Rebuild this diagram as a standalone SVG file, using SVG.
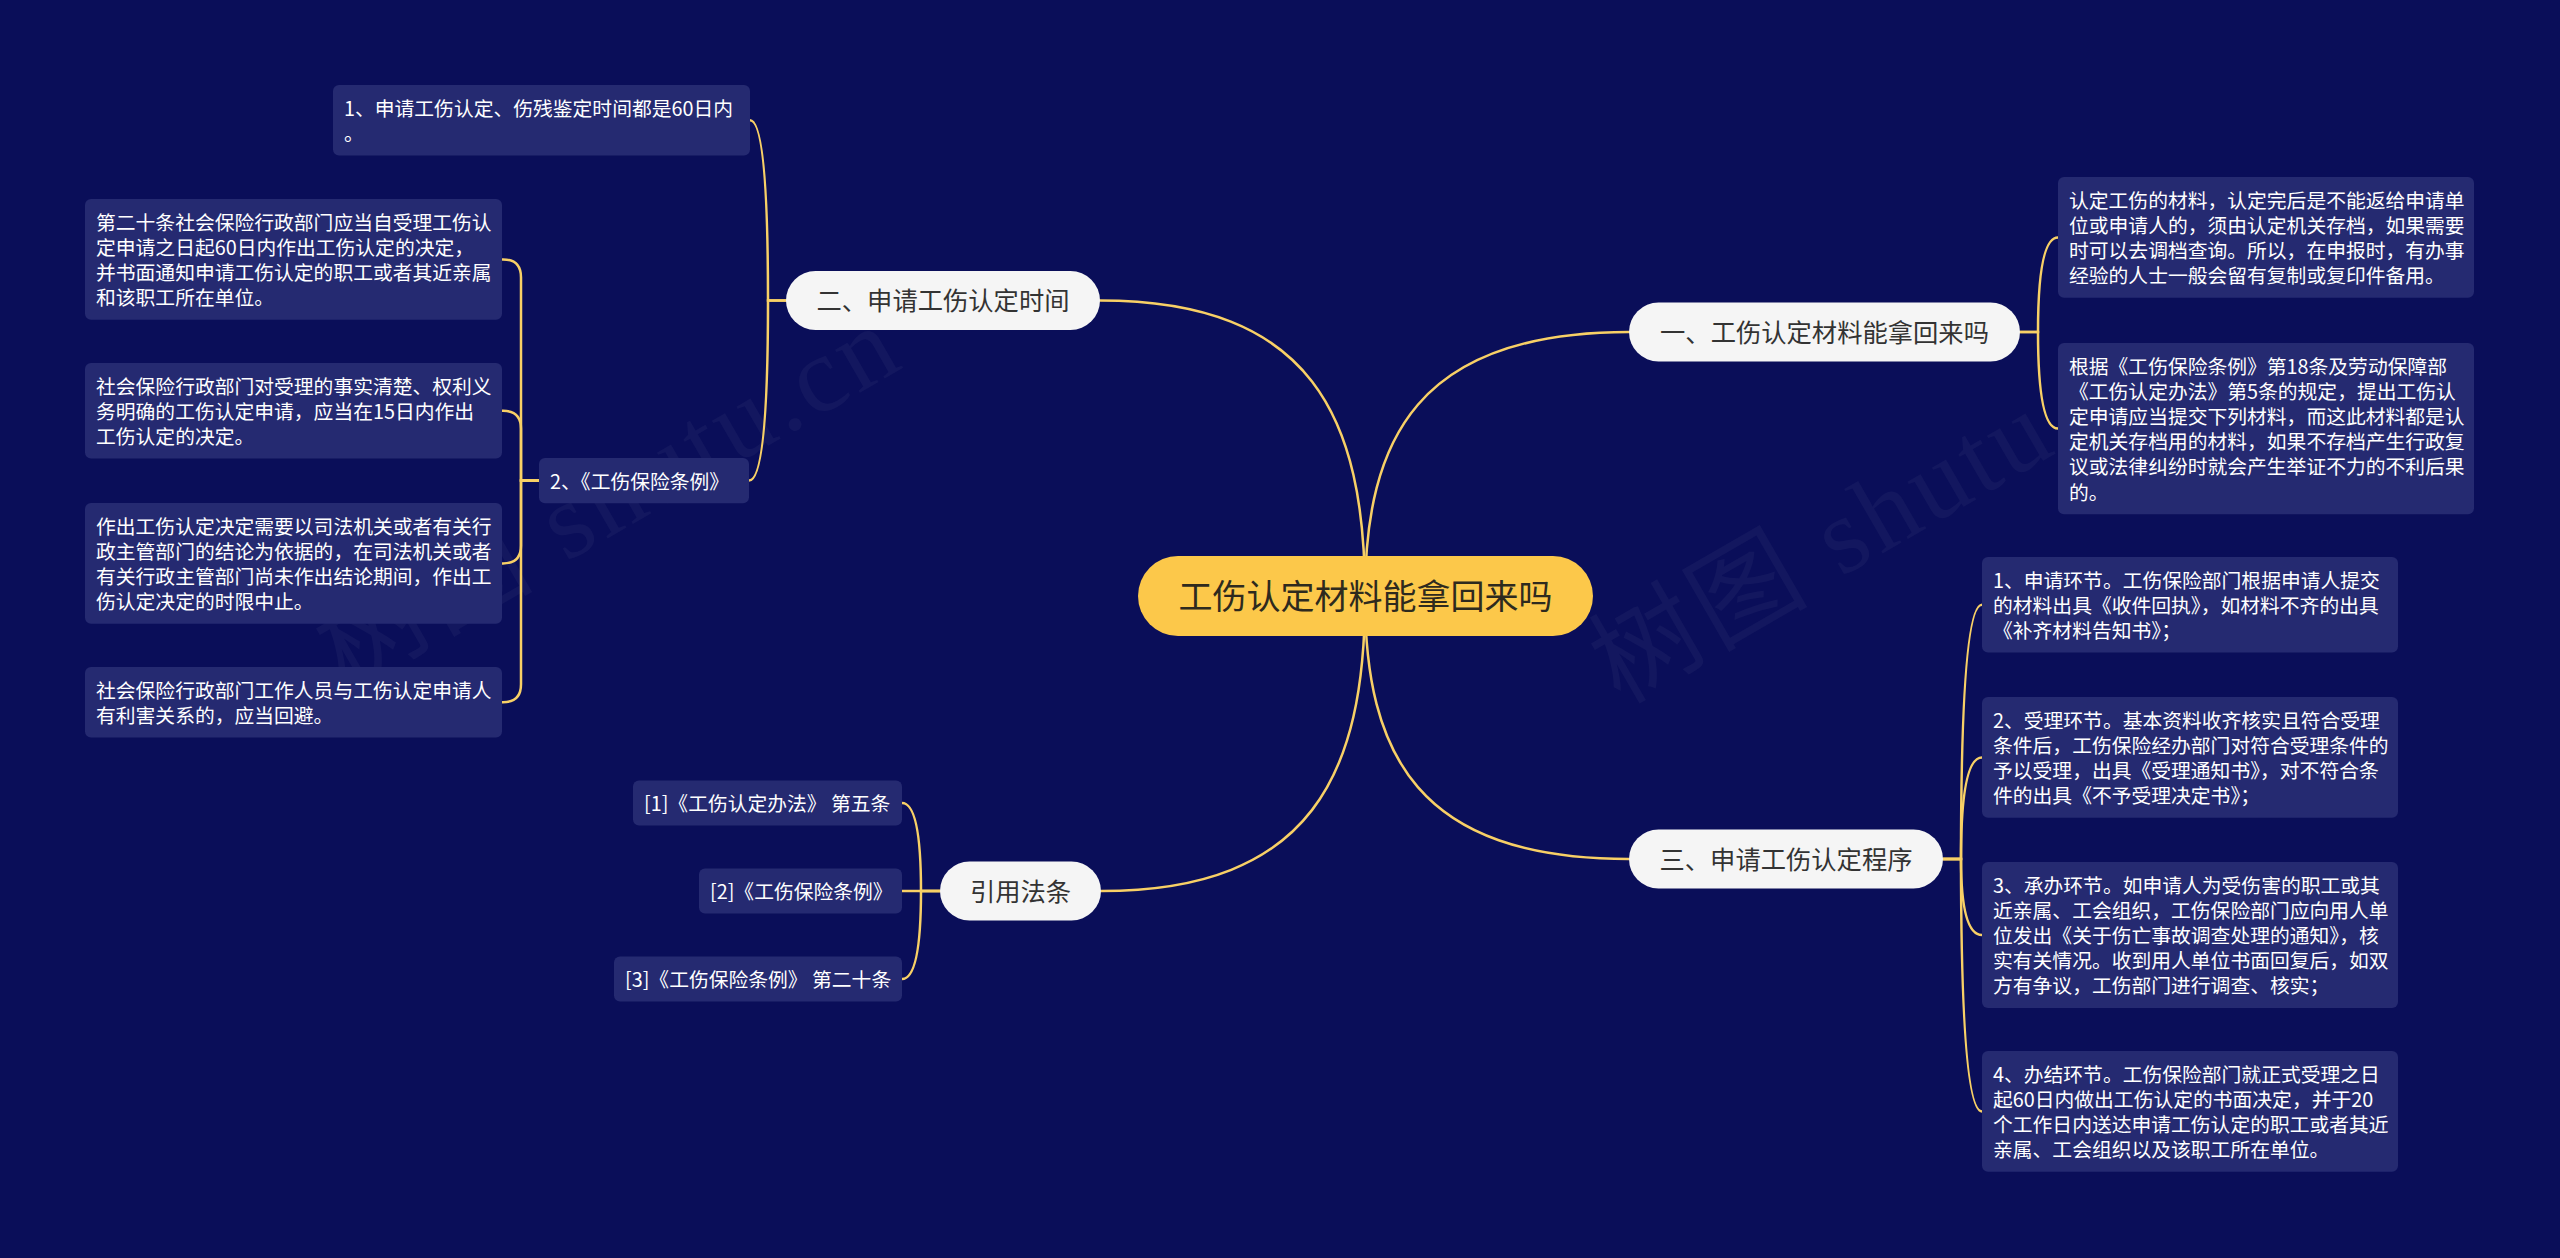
<svg xmlns="http://www.w3.org/2000/svg" width="2560" height="1258" viewBox="0 0 2560 1258">
<style>
.bg{fill:#0A0E59}
.wm{font-family:"Liberation Serif","Noto Sans CJK SC",serif;font-size:108px;letter-spacing:4px;fill:#ffffff;fill-opacity:0.04}
.conn{fill:none;stroke:#F8D066;stroke-width:2.5;stroke-linecap:round}
.box{fill:#252A71}
.bt{font-family:"Noto Sans CJK SC","Noto Sans",sans-serif;font-size:19.8px;fill:#FFFFFF}
.node{fill:#F5F5F5}
.nt{font-family:"Noto Sans CJK SC","Noto Sans",sans-serif;font-size:25.3px;fill:#333333;text-anchor:middle}
.root{fill:#FCC84A}
.rt{font-family:"Noto Sans CJK SC","Noto Sans",sans-serif;font-size:34px;fill:#2E2A1E;text-anchor:middle}
</style>
<rect class="bg" x="0" y="0" width="2560" height="1258"/>
<g id="watermarks">
<text class="wm" x="345" y="690" transform="rotate(-30 345 690)">树图 shutu.cn</text>
<text class="wm" x="1620" y="705" transform="rotate(-30 1620 705)">树图 shutu.cn</text>
</g>
<g id="connectors">
<path class="conn" d="M1365,596 C1365,418 1312,300.5 1100,300.5"/>
<path class="conn" d="M1365,596 C1365,438 1418,332 1629,332"/>
<path class="conn" d="M1365,596 C1365,755 1418,859 1629,859"/>
<path class="conn" d="M1365,596 C1365,773 1312,891 1101,891"/>
<path class="conn" d="M786,300.5 L768,300.5 Q768,120.2 750,120.2"/>
<path class="conn" d="M786,300.5 L768,300.5 Q768,480.6 749,480.6"/>
<path class="conn" d="M2020,332 L2038,332 Q2038,237.4 2058,237.4"/>
<path class="conn" d="M2020,332 L2038,332 Q2038,428.6 2058,428.6"/>
<path class="conn" d="M1943,859 L1961,859 Q1961,604.8 1982,604.8"/>
<path class="conn" d="M1943,859 L1961,859 Q1961,757.4 1982,757.4"/>
<path class="conn" d="M1943,859 L1961,859 Q1961,935 1982,935"/>
<path class="conn" d="M1943,859 L1961,859 Q1961,1111.4 1982,1111.4"/>
<path class="conn" d="M940,891 L921,891 Q921,803 902,803"/>
<path class="conn" d="M940,891 L902,891"/>
<path class="conn" d="M940,891 L921,891 Q921,979 902,979"/>
<path class="conn" d="M539,480.6 L521,480.6 L521,277.4 Q521,259.4 503,259.4 L502,259.4"/>
<path class="conn" d="M539,480.6 L521,480.6 L521,428.8 Q521,410.8 503,410.8 L502,410.8"/>
<path class="conn" d="M539,480.6 L521,480.6 L521,545.4 Q521,563.4 503,563.4 L502,563.4"/>
<path class="conn" d="M539,480.6 L521,480.6 L521,684.2 Q521,702.2 503,702.2 L502,702.2"/>
</g>
<g id="root">
<rect class="root" x="1138" y="556" width="455" height="80" rx="40"/>
<text class="rt" x="1365.5" y="609">工伤认定材料能拿回来吗</text>
</g>
<g id="n-er">
<rect class="node" x="786" y="271" width="314" height="59" rx="29.5"/>
<text class="nt" x="943" y="310">二、申请工伤认定时间</text>
</g>
<g id="n-yi">
<rect class="node" x="1629" y="302.5" width="391" height="59" rx="29.5"/>
<text class="nt" x="1824.5" y="341.6">一、工伤认定材料能拿回来吗</text>
</g>
<g id="n-san">
<rect class="node" x="1629" y="829.5" width="314" height="59" rx="29.5"/>
<text class="nt" x="1786" y="868.6">三、申请工伤认定程序</text>
</g>
<g id="n-yinyong">
<rect class="node" x="940" y="861.5" width="161" height="59" rx="29.5"/>
<text class="nt" x="1020.5" y="900.6">引用法条</text>
</g>
<g id="b1">
<rect class="box" x="333" y="85" width="417" height="70.4" rx="6"/>
<text class="bt"><tspan x="344" y="115.5">1、申请工伤认定、伤残鉴定时间都是60日内</tspan><tspan x="344" y="140.7">。</tspan></text>
</g>
<g id="b2">
<rect class="box" x="539" y="458" width="210" height="45.2" rx="6"/>
<text class="bt" x="550" y="488.5">2、《工伤保险条例》</text>
</g>
<g id="a1">
<rect class="box" x="85" y="199" width="417" height="120.8" rx="6"/>
<text class="bt"><tspan x="96" y="229.5">第二十条社会保险行政部门应当自受理工伤认</tspan><tspan x="96" y="254.7">定申请之日起60日内作出工伤认定的决定，</tspan><tspan x="96" y="279.9">并书面通知申请工伤认定的职工或者其近亲属</tspan><tspan x="96" y="305.1">和该职工所在单位。</tspan></text>
</g>
<g id="a2">
<rect class="box" x="85" y="363" width="417" height="95.6" rx="6"/>
<text class="bt"><tspan x="96" y="393.5">社会保险行政部门对受理的事实清楚、权利义</tspan><tspan x="96" y="418.7">务明确的工伤认定申请，应当在15日内作出</tspan><tspan x="96" y="443.9">工伤认定的决定。</tspan></text>
</g>
<g id="a3">
<rect class="box" x="85" y="503" width="417" height="120.8" rx="6"/>
<text class="bt"><tspan x="96" y="533.5">作出工伤认定决定需要以司法机关或者有关行</tspan><tspan x="96" y="558.7">政主管部门的结论为依据的，在司法机关或者</tspan><tspan x="96" y="583.9">有关行政主管部门尚未作出结论期间，作出工</tspan><tspan x="96" y="609.1">伤认定决定的时限中止。</tspan></text>
</g>
<g id="a4">
<rect class="box" x="85" y="667" width="417" height="70.4" rx="6"/>
<text class="bt"><tspan x="96" y="697.5">社会保险行政部门工作人员与工伤认定申请人</tspan><tspan x="96" y="722.7">有利害关系的，应当回避。</tspan></text>
</g>
<g id="r1">
<rect class="box" x="2058" y="177" width="416" height="120.8" rx="6"/>
<text class="bt"><tspan x="2069" y="207.5">认定工伤的材料，认定完后是不能返给申请单</tspan><tspan x="2069" y="232.7">位或申请人的，须由认定机关存档，如果需要</tspan><tspan x="2069" y="257.9">时可以去调档查询。所以，在申报时，有办事</tspan><tspan x="2069" y="283.1">经验的人士一般会留有复制或复印件备用。</tspan></text>
</g>
<g id="r2">
<rect class="box" x="2058" y="343" width="416" height="171.2" rx="6"/>
<text class="bt"><tspan x="2069" y="373.5">根据《工伤保险条例》第18条及劳动保障部</tspan><tspan x="2069" y="398.7">《工伤认定办法》第5条的规定，提出工伤认</tspan><tspan x="2069" y="423.9">定申请应当提交下列材料，而这此材料都是认</tspan><tspan x="2069" y="449.1">定机关存档用的材料，如果不存档产生行政复</tspan><tspan x="2069" y="474.3">议或法律纠纷时就会产生举证不力的不利后果</tspan><tspan x="2069" y="499.5">的。</tspan></text>
</g>
<g id="p1">
<rect class="box" x="1982" y="557" width="416" height="95.6" rx="6"/>
<text class="bt"><tspan x="1993" y="587.5">1、申请环节。工伤保险部门根据申请人提交</tspan><tspan x="1993" y="612.7">的材料出具《收件回执》，如材料不齐的出具</tspan><tspan x="1993" y="637.9">《补齐材料告知书》；</tspan></text>
</g>
<g id="p2">
<rect class="box" x="1982" y="697" width="416" height="120.8" rx="6"/>
<text class="bt"><tspan x="1993" y="727.5">2、受理环节。基本资料收齐核实且符合受理</tspan><tspan x="1993" y="752.7">条件后，工伤保险经办部门对符合受理条件的</tspan><tspan x="1993" y="777.9">予以受理，出具《受理通知书》，对不符合条</tspan><tspan x="1993" y="803.1">件的出具《不予受理决定书》；</tspan></text>
</g>
<g id="p3">
<rect class="box" x="1982" y="862" width="416" height="146" rx="6"/>
<text class="bt"><tspan x="1993" y="892.5">3、承办环节。如申请人为受伤害的职工或其</tspan><tspan x="1993" y="917.7">近亲属、工会组织，工伤保险部门应向用人单</tspan><tspan x="1993" y="942.9">位发出《关于伤亡事故调查处理的通知》，核</tspan><tspan x="1993" y="968.1">实有关情况。收到用人单位书面回复后，如双</tspan><tspan x="1993" y="993.3">方有争议，工伤部门进行调查、核实；</tspan></text>
</g>
<g id="p4">
<rect class="box" x="1982" y="1051" width="416" height="120.8" rx="6"/>
<text class="bt"><tspan x="1993" y="1081.5">4、办结环节。工伤保险部门就正式受理之日</tspan><tspan x="1993" y="1106.7">起60日内做出工伤认定的书面决定，并于20</tspan><tspan x="1993" y="1131.9">个工作日内送达申请工伤认定的职工或者其近</tspan><tspan x="1993" y="1157.1">亲属、工会组织以及该职工所在单位。</tspan></text>
</g>
<g id="c1">
<rect class="box" x="633" y="780.4" width="269" height="45.2" rx="6"/>
<text class="bt" x="644" y="810.9">[1]《工伤认定办法》 第五条</text>
</g>
<g id="c2">
<rect class="box" x="699" y="868.4" width="203" height="45.2" rx="6"/>
<text class="bt" x="710" y="898.9">[2]《工伤保险条例》</text>
</g>
<g id="c3">
<rect class="box" x="614" y="956.4" width="288" height="45.2" rx="6"/>
<text class="bt" x="625" y="986.9">[3]《工伤保险条例》 第二十条</text>
</g>
</svg>
